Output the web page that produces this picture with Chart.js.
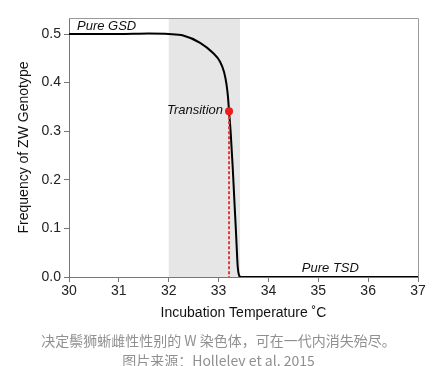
<!DOCTYPE html>
<html>
<head>
<meta charset="utf-8">
<script src="https://cdn.jsdelivr.net/npm/chart.js@4/dist/chart.umd.min.js"></script>
<style>
html,body{margin:0;padding:0;background:#fff;}
#wrap{position:relative;width:447px;height:366px;overflow:hidden;}
#c{position:absolute;left:0;top:0;}
.cap{position:absolute;left:0;width:437px;text-align:center;color:#909090;font-family:"Noto Sans CJK SC","Liberation Sans",sans-serif;font-size:14px;line-height:16px;white-space:nowrap;}
</style>
</head>
<body>
<div id="wrap">
<canvas id="c" width="447" height="366"></canvas>
<div class="cap" style="top:332px;">决定鬃狮蜥雌性性别的 W 染色体，可在一代内消失殆尽。</div>
<div class="cap" style="top:352px;">图片来源：Hollelev et al. 2015</div>
</div>
<script>
// Data
const temps = [30, 31, 31.6, 32.0, 32.29, 32.63, 32.89, 33.03, 33.11, 33.16, 33.19, 33.21, 33.243, 33.283, 33.316, 33.35, 33.384, 33.41, 33.45, 34, 35, 36, 37];
const freq  = [0.5, 0.5, 0.501, 0.5, 0.497, 0.482, 0.461, 0.443, 0.422, 0.396, 0.369, 0.341, 0.297, 0.227, 0.159, 0.091, 0.021, 0.004, 0.0, 0, 0, 0, 0];
const transitionTemp = [33.21];
const transitionFreq = [0.341];
const shadeRange = [32, 33.43];
const xTicks = [30, 31, 32, 33, 34, 35, 36, 37];
const yTicks = [0.0, 0.1, 0.2, 0.3, 0.4, 0.5];
const annotations = [
  {text: 'Pure GSD', x: 30.16, y: 0.516, align: 'left'},
  {text: 'Pure TSD', x: 34.67, y: 0.018, align: 'left'},
  {text: 'Transition', x: 33.09, y: 0.342, align: 'right'}
];

const FONT = '"Liberation Sans", Arial, sans-serif';

const curve = temps.map((t, i) => ({x: t, y: freq[i]}));
const dashed = [{x: transitionTemp[0], y: transitionFreq[0]}, {x: transitionTemp[0], y: 0}];
const dot = [{x: transitionTemp[0], y: transitionFreq[0]}];

const decor = {
  id: 'decor',
  beforeDatasetsDraw(chart) {
    const {ctx, chartArea, scales} = chart;
    const x1 = scales.x.getPixelForValue(shadeRange[0]);
    const x2 = scales.x.getPixelForValue(shadeRange[1]);
    ctx.save();
    ctx.fillStyle = '#e6e6e6';
    ctx.fillRect(x1, chartArea.top, x2 - x1, chartArea.bottom - chartArea.top);
    ctx.restore();
  },
  afterDraw(chart) {
    const {ctx, chartArea, scales} = chart;
    ctx.save();
    ctx.strokeStyle = '#9a9a9a';
    ctx.lineWidth = 1;
    ctx.beginPath();
    ctx.moveTo(chartArea.left, chartArea.top + 0.5);
    ctx.lineTo(chartArea.right + 0.5, chartArea.top + 0.5);
    ctx.lineTo(chartArea.right + 0.5, chartArea.bottom);
    ctx.stroke();
    ctx.fillStyle = '#111';
    ctx.font = 'italic 13px ' + FONT;
    ctx.textBaseline = 'middle';
    annotations.forEach(a => {
      ctx.textAlign = a.align;
      ctx.fillText(a.text, scales.x.getPixelForValue(a.x), scales.y.getPixelForValue(a.y));
    });
    ctx.restore();
  }
};

new Chart(document.getElementById('c'), {
  type: 'scatter',
  data: {
    datasets: [
      {data: dot, order: 0, pointRadius: 4, backgroundColor: '#ec1c1c', borderColor: '#ec1c1c', borderWidth: 0},
      {data: dashed, order: 1, showLine: true, borderColor: '#e03a3a', borderWidth: 2, borderDash: [3, 2], pointRadius: 0},
      {data: curve, order: 2, showLine: true, borderColor: '#000', borderWidth: 2, pointRadius: 0, cubicInterpolationMode: 'monotone'}
    ]
  },
  options: {
    responsive: false,
    animation: false,
    devicePixelRatio: 1,
    layout: {padding: {top: 18, right: 29, left: 0, bottom: 42}},
    plugins: {legend: {display: false}, tooltip: {enabled: false}},
    scales: {
      x: {
        type: 'linear', min: 30, max: 37,
        afterBuildTicks: s => { s.ticks = xTicks.map(v => ({value: v})); },
        afterFit: s => { s.height = 47; },
        grid: {drawOnChartArea: false, drawTicks: true, tickLength: 5, color: '#777'},
        border: {color: '#777', width: 1},
        ticks: {color: '#222', font: {family: FONT, size: 14}, padding: 1, maxRotation: 0, autoSkip: false},
        title: {display: true, text: 'Incubation Temperature ˚C', color: '#111', font: {family: FONT, size: 14}, padding: {top: 0, bottom: 2}}
      },
      y: {
        type: 'linear', min: 0, max: 0.533,
        afterBuildTicks: s => { s.ticks = yTicks.map(v => ({value: v})); },
        afterFit: s => { s.width = 69; },
        grid: {drawOnChartArea: false, drawTicks: true, tickLength: 5, color: '#777'},
        border: {color: '#777', width: 1},
        ticks: {color: '#222', font: {family: FONT, size: 14}, padding: 3, callback: v => Number(v).toFixed(1)},
        title: {display: true, text: 'Frequency of ZW Genotype', color: '#111', font: {family: FONT, size: 14}, padding: {top: 16, bottom: 0}}
      }
    }
  },
  plugins: [decor]
});
</script>
</body>
</html>
